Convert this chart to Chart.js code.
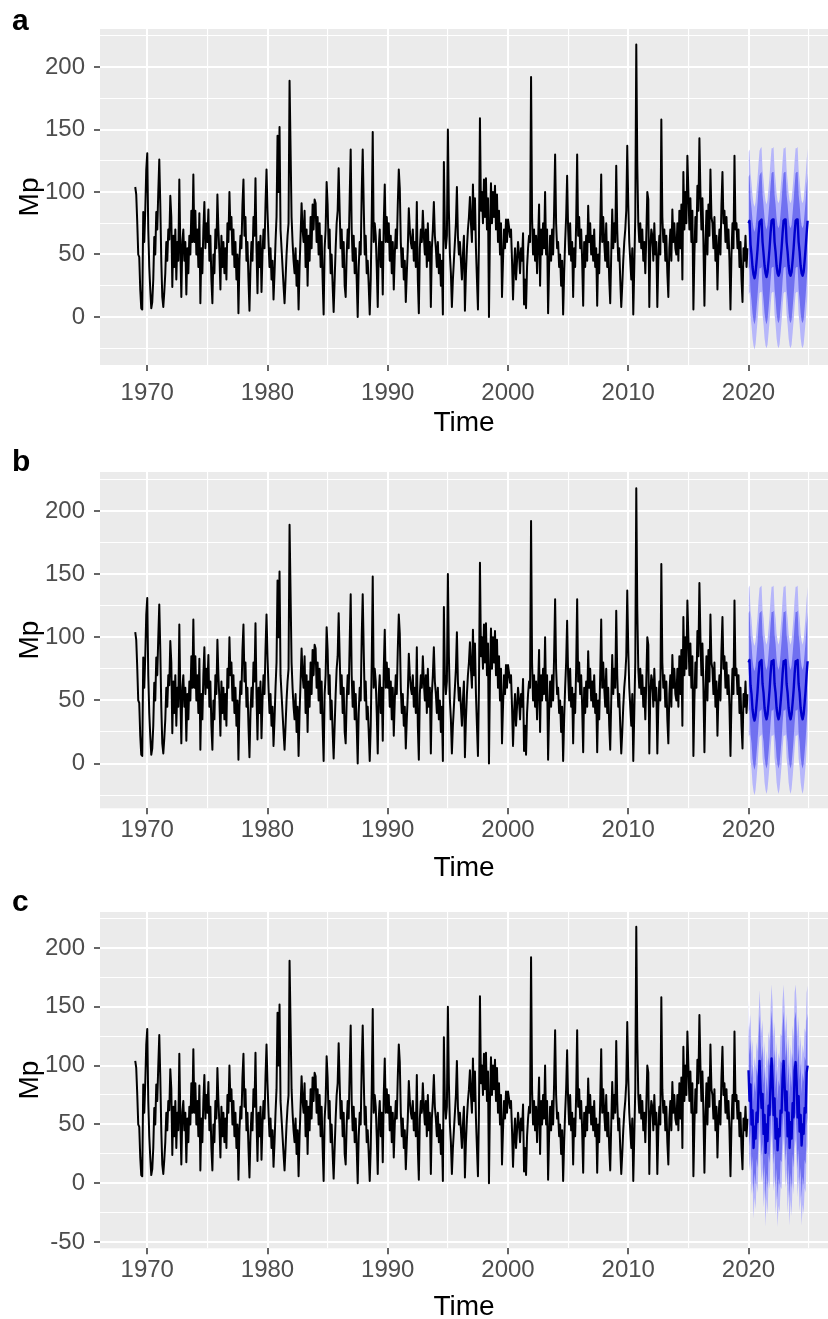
<!DOCTYPE html>
<html>
<head>
<meta charset="utf-8">
<title>Mp monthly series and forecasts</title>
<script src="https://cdn.jsdelivr.net/npm/chart.js@4.4.1/dist/chart.umd.min.js"></script>
<style>
    html, body { margin: 0; padding: 0; background: #fff; overflow: hidden; }
    #figure { position: relative; width: 828px; height: 1319px; }
    .panel { position: absolute; left: 0; width: 828px; height: 445px; }
    .panel canvas { display: block; }
    .tag { position: absolute; left: 12px; font: bold 30px/30px "Liberation Sans", Arial, sans-serif; color: #000; }
</style>
</head>
<body>
<div id="figure">
    <div class="panel" style="top:0px"><canvas id="chartA" width="828" height="445"></canvas></div>
    <div class="panel" style="top:440px"><canvas id="chartB" width="828" height="445"></canvas></div>
    <div class="panel" style="top:880px"><canvas id="chartC" width="828" height="445"></canvas></div>
    <div class="tag" style="top:5px">a</div>
    <div class="tag" style="top:446px">b</div>
    <div class="tag" style="top:886px">c</div>
</div>
<script>
"use strict";

/* observed Mp, monthly from Jan 1969 to Dec 2019, one row per year */
var historyStart = 1969;
var mpHistory = [
    104, 98, 76, 50, 48, 22, 7, 6, 84, 60, 85, 118,
    131, 70, 40, 22, 7, 12, 30, 64, 50, 84, 70, 100,
    126, 90, 45, 16, 8, 20, 35, 60, 45, 70, 62, 97,
    80, 24, 65, 40, 70, 30, 60, 45, 110, 55, 16, 60,
    70, 45, 60, 18, 55, 35, 65, 50, 85, 60, 114, 60,
    85, 50, 70, 40, 83, 11, 55, 35, 70, 92, 55, 75,
    60, 86, 45, 65, 30, 11, 50, 35, 70, 55, 98, 70,
    50, 22, 65, 40, 60, 35, 55, 30, 75, 60, 100, 70,
    80, 50, 70, 40, 60, 30, 50, 3, 45, 65, 55, 90,
    110, 65, 80, 45, 60, 30, 5, 40, 60, 45, 80, 65,
    111, 55, 19, 60, 40, 65, 20, 50, 70, 55, 90, 118,
    85, 60, 40, 55, 30, 45, 14, 35, 60, 80, 145, 100,
    152, 70, 55, 40, 25, 11, 30, 50, 65, 75, 189, 135,
    80, 60, 45, 35, 55, 25, 45, 6, 40, 65, 91, 70,
    60, 85, 40, 70, 25, 65, 45, 80, 55, 90, 70, 94,
    91, 60, 80, 50, 75, 40, 65, 30, 2, 55, 70, 108,
    90, 55, 70, 35, 50, 25, 4, 30, 55, 75, 85, 119,
    85, 55, 70, 40, 60, 25, 16, 50, 70, 55, 95, 134,
    70, 45, 65, 35, 55, 30, 0, 40, 60, 50, 100, 134,
    90, 50, 65, 35, 45, 25, 2, 30, 80, 148, 60, 75,
    65, 40, 8, 55, 70, 40, 60, 18, 75, 106, 60, 80,
    60, 75, 45, 65, 35, 60, 22, 50, 70, 55, 90, 118,
    103, 60, 40, 55, 30, 45, 12, 35, 55, 87, 70, 60,
    55, 70, 45, 60, 40, 92, 30, 3, 55, 70, 60, 85,
    65, 50, 70, 40, 75, 45, 60, 8, 55, 70, 92, 65,
    55, 40, 60, 35, 50, 25, 45, 2, 124, 70, 55, 65,
    150, 85, 50, 35, 8, 30, 45, 60, 75, 104, 65, 50,
    60, 45, 30, 50, 65, 5, 35, 55, 70, 80, 96, 75,
    60, 106, 70, 95, 55, 30, 6, 60, 159, 85, 100, 75,
    110, 80, 111, 70, 95, 0, 70, 107, 75, 100, 80, 105,
    70, 98, 60, 85, 50, 75, 16, 45, 70, 55, 78, 60,
    78, 72, 64, 70, 45, 14, 40, 55, 30, 45, 60, 50,
    35, 55, 45, 67, 10, 30, 7, 40, 55, 65, 60, 192,
    80, 50, 70, 45, 65, 35, 60, 90, 25, 70, 50, 75,
    55, 100, 50, 70, 3, 40, 65, 45, 70, 50, 85, 130,
    75, 55, 60, 40, 50, 25, 45, 2, 35, 60, 80, 113,
    70, 50, 75, 45, 60, 16, 55, 40, 75, 130, 65, 80,
    55, 70, 45, 9, 60, 40, 65, 45, 89, 60, 75, 50,
    65, 45, 70, 40, 55, 9, 50, 35, 70, 114, 60, 80,
    60, 45, 75, 40, 60, 30, 11, 50, 86, 55, 75, 60,
    121, 70, 45, 55, 30, 8, 25, 45, 60, 70, 85, 137,
    90, 60, 45, 30, 55, 2, 40, 80, 218, 122, 75, 60,
    75, 55, 70, 45, 60, 35, 65, 100, 94, 8, 55, 70,
    65, 45, 75, 50, 60, 8, 45, 65, 50, 158, 80, 60,
    70, 45, 65, 35, 16, 55, 70, 45, 86, 60, 75, 55,
    50, 75, 45, 85, 55, 90, 30, 116, 70, 100, 75, 129,
    100, 70, 95, 60, 85, 6, 50, 80, 60, 105, 85, 143,
    100, 70, 95, 60, 9, 55, 85, 50, 90, 65, 118, 80,
    75, 55, 80, 45, 65, 22, 55, 70, 50, 90, 116, 75,
    85, 60, 80, 55, 70, 45, 6, 50, 75, 55, 129, 70,
    75, 55, 70, 40, 60, 30, 12, 55, 45, 65, 40, 55
];

/* forecasts, monthly from Jan 2020 to Dec 2024 */
var forecastStart = 2020;

/* panel a */
var meanA = [
    75, 77, 58, 50, 40, 34, 31, 35, 44, 54, 66, 76,
    77, 78, 60, 51, 41, 35, 32, 36, 45, 55, 67, 77,
    78, 78, 60, 52, 41, 35, 33, 36, 45, 55, 67, 77,
    78, 78, 60, 52, 41, 35, 33, 36, 45, 55, 67, 77,
    78, 78, 60, 52, 41, 35, 33, 36, 45, 55, 67, 77
];
var lo80A = [
    38, 40, 21, 13, 3, -3, -6, -2, 7, 17, 29, 39,
    39, 40, 22, 13, 3, -3, -6, -2, 7, 17, 29, 39,
    40, 40, 22, 14, 3, -3, -5, -2, 7, 17, 29, 39,
    40, 40, 22, 14, 3, -3, -5, -2, 7, 17, 29, 39,
    40, 40, 22, 14, 3, -3, -5, -2, 7, 17, 29, 39
];
var hi80A = [
    112, 114, 95, 87, 77, 71, 68, 72, 81, 91, 103, 113,
    115, 116, 98, 89, 79, 73, 70, 74, 83, 93, 105, 115,
    116, 116, 98, 90, 79, 73, 71, 74, 83, 93, 105, 115,
    116, 116, 98, 90, 79, 73, 71, 74, 83, 93, 105, 115,
    116, 116, 98, 90, 79, 73, 71, 74, 83, 93, 105, 115
];
var lo95A = [
    18, 20, 1, -7, -17, -23, -26, -22, -13, -3, 9, 19,
    20, 20, 2, -6, -17, -23, -25, -22, -13, -3, 9, 19,
    20, 20, 2, -6, -17, -23, -25, -22, -13, -3, 9, 19,
    20, 20, 2, -6, -17, -23, -25, -22, -13, -3, 9, 19,
    20, 20, 2, -6, -17, -23, -25, -22, -13, -3, 9, 19
];
var hi95A = [
    132, 134, 115, 107, 97, 91, 88, 92, 101, 111, 123, 133,
    135, 136, 118, 109, 99, 93, 90, 94, 103, 113, 125, 135,
    135, 136, 118, 109, 99, 93, 91, 94, 103, 113, 125, 135,
    135, 136, 118, 109, 99, 93, 91, 94, 103, 113, 125, 135,
    135, 136, 118, 109, 99, 93, 91, 94, 103, 113, 125, 135
];

/* panel b */
var meanB = [
    80, 82, 62, 55, 43, 37, 34, 38, 47, 57, 70, 80,
    81, 82, 63, 56, 44, 38, 35, 39, 48, 58, 71, 81,
    81, 82, 63, 56, 44, 38, 35, 39, 48, 58, 71, 81,
    81, 82, 63, 56, 44, 38, 35, 39, 48, 58, 71, 81,
    81, 82, 63, 56, 44, 38, 35, 39, 48, 58, 71, 81
];
var lo80B = [
    41, 43, 23, 16, 4, -2, -5, -1, 8, 18, 31, 41,
    42, 43, 24, 17, 5, -1, -4, 0, 9, 19, 32, 42,
    42, 43, 24, 17, 5, -1, -4, 0, 9, 19, 32, 42,
    42, 43, 24, 17, 5, -1, -4, 0, 9, 19, 32, 42,
    42, 43, 24, 17, 5, -1, -4, 0, 9, 19, 32, 42
];
var hi80B = [
    119, 121, 101, 94, 82, 76, 73, 77, 86, 96, 109, 119,
    120, 121, 102, 95, 83, 77, 74, 78, 87, 97, 110, 120,
    120, 121, 102, 95, 83, 77, 74, 78, 87, 97, 110, 120,
    120, 121, 102, 95, 83, 77, 74, 78, 87, 97, 110, 120,
    120, 121, 102, 95, 83, 77, 74, 78, 87, 97, 110, 120
];
var lo95B = [
    21, 23, 3, -4, -16, -22, -25, -21, -12, -2, 11, 21,
    22, 23, 4, -3, -15, -21, -24, -20, -11, -1, 12, 22,
    22, 23, 4, -3, -15, -21, -24, -20, -11, -1, 12, 22,
    22, 23, 4, -3, -15, -21, -24, -20, -11, -1, 12, 22,
    22, 23, 4, -3, -15, -21, -24, -20, -11, -1, 12, 22
];
var hi95B = [
    139, 141, 121, 114, 102, 96, 93, 97, 106, 116, 129, 139,
    140, 141, 122, 115, 103, 97, 94, 98, 107, 117, 130, 140,
    140, 141, 122, 115, 103, 97, 94, 98, 107, 117, 130, 140,
    140, 141, 122, 115, 103, 97, 94, 98, 107, 117, 130, 140,
    140, 141, 122, 115, 103, 97, 94, 98, 107, 117, 130, 140
];

/* panel c */
var meanC = [
    96, 70, 84, 50, 62, 30, 48, 38, 60, 52, 80, 104,
    82, 64, 76, 42, 58, 26, 50, 36, 66, 58, 86, 106,
    88, 58, 72, 38, 55, 28, 46, 40, 62, 60, 90, 104,
    84, 62, 78, 40, 60, 30, 52, 38, 68, 56, 96, 103,
    86, 56, 74, 44, 58, 32, 50, 42, 64, 60, 94, 100
];
var lo80C = [
    57, 31, 45, 11, 23, -9, 9, -1, 21, 13, 41, 65,
    41, 23, 35, 1, 17, -15, 9, -5, 25, 17, 45, 65,
    46, 16, 30, -4, 13, -14, 4, -2, 20, 18, 48, 62,
    41, 19, 35, -3, 17, -13, 9, -5, 25, 13, 53, 60,
    42, 12, 30, 0, 14, -12, 6, -2, 20, 16, 50, 56
];
var hi80C = [
    135, 109, 123, 89, 101, 69, 87, 77, 99, 91, 119, 143,
    123, 105, 117, 83, 99, 67, 91, 77, 107, 99, 127, 147,
    130, 100, 114, 80, 97, 70, 88, 82, 104, 102, 132, 146,
    127, 105, 121, 83, 103, 73, 95, 81, 111, 99, 139, 146,
    130, 100, 118, 88, 102, 76, 94, 86, 108, 104, 138, 144
];
var lo95C = [
    36, 10, 24, -10, 2, -30, -12, -22, 0, -8, 20, 44,
    19, 1, 13, -21, -5, -37, -13, -27, 3, -5, 23, 43,
    23, -7, 7, -27, -10, -37, -19, -25, -3, -5, 25, 39,
    18, -4, 12, -26, -6, -36, -14, -28, 2, -10, 30, 37,
    18, -12, 6, -24, -10, -36, -18, -26, -4, -8, 26, 32
];
var hi95C = [
    156, 130, 144, 110, 122, 90, 108, 98, 120, 112, 140, 164,
    145, 127, 139, 105, 121, 89, 113, 99, 129, 121, 149, 169,
    153, 123, 137, 103, 120, 93, 111, 105, 127, 125, 155, 169,
    150, 128, 144, 106, 126, 96, 118, 104, 134, 122, 162, 169,
    154, 124, 142, 112, 126, 100, 118, 110, 132, 128, 162, 168
];

/* axis ticks (majors carry labels, the rest are minor grid lines) */
var yearTicks = [1970, 1975, 1980, 1985, 1990, 1995, 2000, 2005, 2010, 2015, 2020, 2025];
var mpTicks = [-25, 0, 25, 50, 75, 100, 125, 150, 175, 200, 225];
var mpTicksC = [-50, -25, 0, 25, 50, 75, 100, 125, 150, 175, 200, 225];

document.addEventListener("DOMContentLoaded", function () {

    Chart.defaults.font.family = "'Liberation Sans', Arial, sans-serif";

    var canvasHeight = 445;

    /* grey ggplot panel */
    var panelBackground = {
        id: 'panelBackground',
        beforeDraw: function (chart) {
            var area = chart.chartArea;
            var ctx = chart.ctx;
            ctx.save();
            ctx.fillStyle = '#EBEBEB';
            ctx.fillRect(area.left, area.top, area.right - area.left, area.bottom - area.top);
            ctx.restore();
        }
    };

    function monthly(values, start) {
        return values.map(function (v, i) {
            return { x: start + i / 12, y: v };
        });
    }

    function gridWidth(step) {
        return function (c) {
            return c.tick && c.tick.value % step === 0 ? 2 : 1.1;
        };
    }

    function tickColor(step) {
        return function (c) {
            return c.tick && c.tick.value % step === 0 ? '#333333' : 'rgba(0,0,0,0)';
        };
    }

    function asTicks(list) {
        return function (axis) {
            axis.ticks = list.map(function (v) { return { value: v }; });
        };
    }

    function makePanel(canvasId, p) {
        var ctx = document.getElementById(canvasId).getContext('2d');
        var none = 'rgba(0,0,0,0)';
        return new Chart(ctx, {
            type: 'line',
            data: {
                datasets: [{
                    label: 'forecast',
                    data: monthly(p.mean, forecastStart),
                    borderColor: 'rgb(0, 0, 205)',
                    borderWidth: 2.4,
                    borderJoinStyle: 'round',
                    fill: false
                },
                {
                    label: '80% upper',
                    data: monthly(p.hi80, forecastStart),
                    borderColor: none,
                    borderWidth: 0,
                    backgroundColor: 'rgb(112, 112, 240)',
                    fill: '+1'
                },
                {
                    label: '80% lower',
                    data: monthly(p.lo80, forecastStart),
                    borderColor: none,
                    borderWidth: 0,
                    fill: false
                },
                {
                    label: '95% upper',
                    data: monthly(p.hi95, forecastStart),
                    borderColor: none,
                    borderWidth: 0,
                    backgroundColor: 'rgb(182, 182, 250)',
                    fill: '+1'
                },
                {
                    label: '95% lower',
                    data: monthly(p.lo95, forecastStart),
                    borderColor: none,
                    borderWidth: 0,
                    fill: false
                },
                {
                    label: 'Mp',
                    data: monthly(mpHistory, historyStart),
                    borderColor: '#000000',
                    borderWidth: 2,
                    borderJoinStyle: 'round',
                    fill: false
                }]
            },
            options: {
                responsive: false,
                animation: false,
                events: [],
                layout: {
                    padding: { top: p.top, left: 0, right: 0, bottom: 0 }
                },
                elements: {
                    point: { radius: 0 },
                    line: { tension: 0 }
                },
                plugins: {
                    legend: { display: false },
                    tooltip: { enabled: false }
                },
                scales: {
                    x: {
                        type: 'linear',
                        bounds: 'data',
                        min: 1966.07,
                        max: 2026.61,
                        afterBuildTicks: asTicks(yearTicks),
                        afterFit: function (axis) { axis.height = canvasHeight - p.bottom; },
                        border: { display: false },
                        grid: {
                            color: '#ffffff',
                            lineWidth: gridWidth(10),
                            drawTicks: true,
                            tickLength: 6,
                            tickWidth: 1.5,
                            tickColor: tickColor(10)
                        },
                        ticks: {
                            autoSkip: false,
                            maxRotation: 0,
                            minRotation: 0,
                            padding: p.labelPad,
                            color: '#4D4D4D',
                            font: { size: 24 },
                            callback: function (v) { return v % 10 === 0 ? String(v) : ''; }
                        },
                        title: {
                            display: true,
                            text: 'Time',
                            color: '#000000',
                            font: { size: 28 },
                            padding: { top: 0, bottom: p.titlePad }
                        }
                    },
                    y: {
                        type: 'linear',
                        bounds: 'data',
                        min: p.yMin,
                        max: p.yMax,
                        afterBuildTicks: asTicks(p.yTicks),
                        afterFit: function (axis) { axis.width = 100; },
                        border: { display: false },
                        grid: {
                            color: '#ffffff',
                            lineWidth: gridWidth(50),
                            drawTicks: true,
                            tickLength: 6,
                            tickWidth: 1.5,
                            tickColor: tickColor(50)
                        },
                        ticks: {
                            autoSkip: false,
                            padding: 9,
                            color: '#4D4D4D',
                            font: { size: 24 },
                            callback: function (v) { return v % 50 === 0 ? String(v) : ''; }
                        },
                        title: {
                            display: true,
                            text: 'Mp',
                            color: '#000000',
                            font: { size: 28 },
                            padding: { top: 13, bottom: 0 }
                        }
                    }
                }
            },
            plugins: [panelBackground]
        });
    }

    makePanel('chartA', {
        top: 29, bottom: 365, labelPad: 8, titlePad: 5,
        yMin: -38.4, yMax: 230.4, yTicks: mpTicks,
        mean: meanA, lo80: lo80A, hi80: hi80A, lo95: lo95A, hi95: hi95A
    });

    makePanel('chartB', {
        top: 32, bottom: 368.3, labelPad: 2, titlePad: 0,
        yMin: -35.4, yMax: 230.8, yTicks: mpTicks,
        mean: meanB, lo80: lo80B, hi80: hi80B, lo95: lo95B, hi95: hi95B
    });

    makePanel('chartC', {
        top: 32, bottom: 368.3, labelPad: 2, titlePad: 1,
        yMin: -55.2, yMax: 230.5, yTicks: mpTicksC,
        mean: meanC, lo80: lo80C, hi80: hi80C, lo95: lo95C, hi95: hi95C
    });

})
</script>
</body>
</html>
